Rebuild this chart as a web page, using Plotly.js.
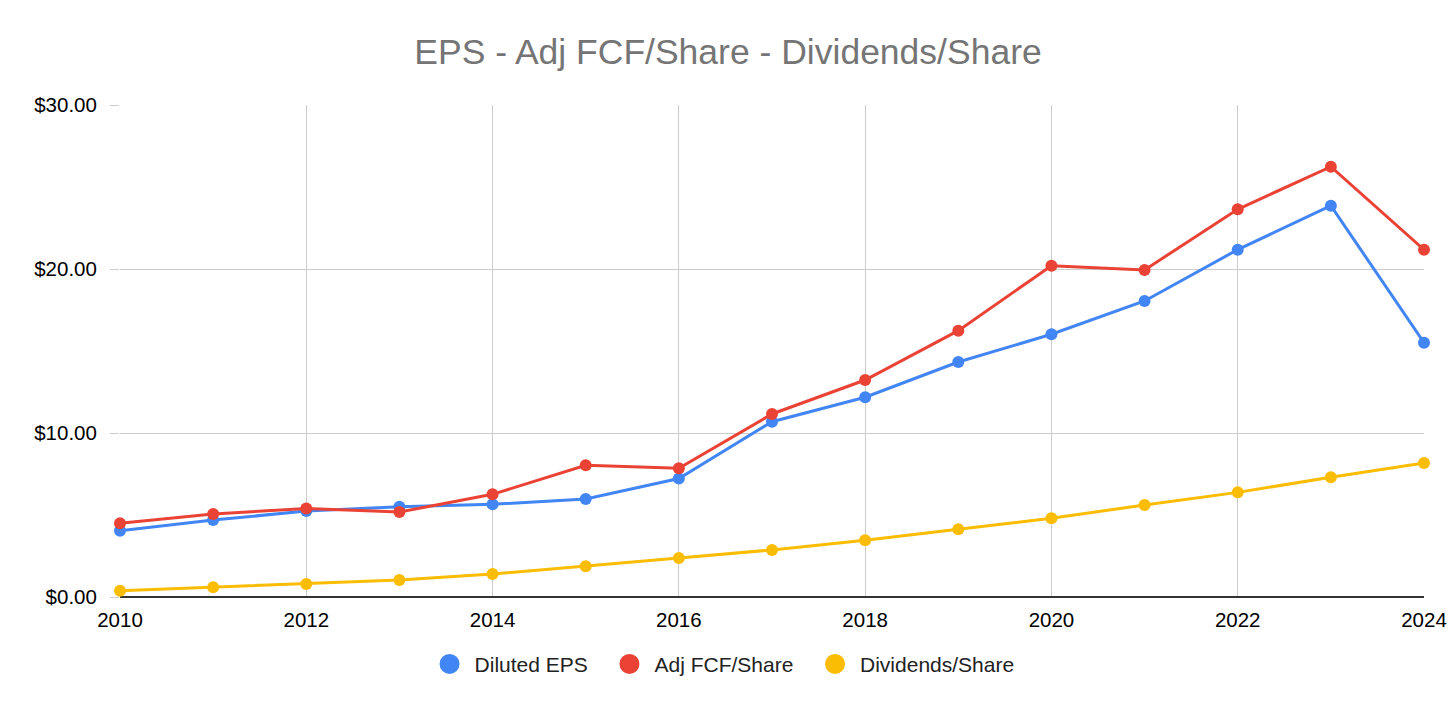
<!DOCTYPE html>
<html>
<head>
<meta charset="utf-8">
<script src="https://cdn.plot.ly/plotly-3.0.1.min.js"></script>
<style>html,body{margin:0;padding:0;background:#fff;}#chart{width:1456px;height:710px;}</style>
</head>
<body>
<div id="chart"></div>
<script>
const years = [2010,2011,2012,2013,2014,2015,2016,2017,2018,2019,2020,2021,2022,2023,2024];
const dilutedEPS = [4.04,4.69,5.24,5.50,5.65,5.98,7.22,10.69,12.18,14.33,16.02,18.05,21.18,23.86,15.51];
const adjFCFShare = [4.49,5.06,5.40,5.18,6.26,8.03,7.85,11.16,13.23,16.24,20.20,19.94,23.64,26.24,21.18];
const dividendsShare = [0.38,0.59,0.79,1.04,1.40,1.87,2.38,2.87,3.46,4.13,4.80,5.61,6.38,7.30,8.17];
const seriesNames = ['Diluted EPS','Adj FCF/Share','Dividends/Share'];
const colors = ['#4285F4','#EA4335','#FBBC04'];
const xTicks = [2010,2012,2014,2016,2018,2020,2022,2024];
const yTicks = [0,10,20,30];

const values = [dilutedEPS, adjFCFShare, dividendsShare];
const traces = [];
values.forEach((v,i)=>{
  traces.push({x: years, y: v, type:'scatter', mode:'lines+markers', name: seriesNames[i],
    line:{color:colors[i], width:3}, marker:{color:colors[i], size:12}, showlegend:false, cliponaxis:false});
});
values.forEach((v,i)=>{
  const pad = i < values.length - 1 ? '\u00a0\u00a0' : '';
  traces.push({x:[null], y:[null], type:'scatter', mode:'markers', name: seriesNames[i] + pad,
    marker:{color:colors[i], size:16, line:{color:colors[i], width:4}}, showlegend:true});
});

const layout = {
  width:1456, height:710,
  paper_bgcolor:'#fff', plot_bgcolor:'#fff',
  font:{family:'Arial, "Liberation Sans", sans-serif', size:20.5, color:'#000'},
  title:{text:'EPS - Adj FCF/Share - Dividends/Share', font:{size:35.5, color:'#757575'}, x:0.5, xanchor:'center', y:0.927, yanchor:'middle'},
  margin:{l:120, r:32, t:105, b:113},
  xaxis:{range:[2010,2024], tickvals:xTicks, ticktext:xTicks.map(String), showgrid:true, gridcolor:'#cccccc', gridwidth:1,
    zeroline:false, showline:false, ticks:'', ticklabelstandoff:8, tickfont:{size:20.5, color:'#000'}},
  yaxis:{range:[0,30], tickvals:yTicks, ticktext:yTicks.map(v=>'$'+v.toFixed(2)), showgrid:true, gridcolor:'#cccccc', gridwidth:1,
    zeroline:true, zerolinecolor:'#333333', zerolinewidth:2, showline:false, ticks:'outside', ticklen:9, tickcolor:'#cccccc', tickwidth:1,
    ticklabelstandoff:9, tickfont:{size:20.5, color:'#000'}},
  legend:{orientation:'h', x:0.4617, xanchor:'center', y:-0.095, yanchor:'top', font:{size:21, color:'#222'}, itemsizing:'trace', itemwidth:40},
  showlegend:true
};
Plotly.newPlot('chart', traces, layout, {displayModeBar:false, staticPlot:true});
</script>
</body>
</html>
